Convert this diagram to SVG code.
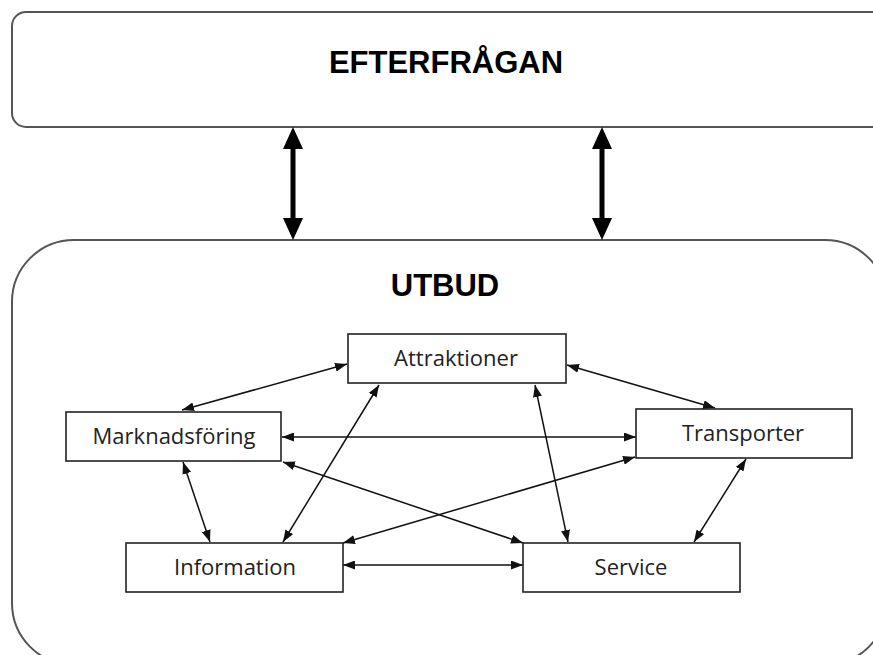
<svg xmlns="http://www.w3.org/2000/svg" width="873" height="655" viewBox="0 0 873 655">
<style>
.big{fill:#fff;stroke:#555;stroke-width:2}
.node rect{fill:#fff;stroke:#222;stroke-width:1.6}
.node text{font-family:"Open Sans","Liberation Sans",sans-serif;font-size:22px;fill:#222;text-anchor:middle}
.title{font-family:"Liberation Sans",Arial,sans-serif;font-weight:bold;fill:#000;text-anchor:middle}
.c{stroke:#111;stroke-width:1.5;fill:none;marker-start:url(#ah);marker-end:url(#ah)}
.thick{fill:#000}
</style>
<defs>
<marker id="ah" viewBox="0 0 12 9" refX="12" refY="4.5" markerWidth="12" markerHeight="9" markerUnits="userSpaceOnUse" orient="auto-start-reverse">
<path d="M0,0 L12,4.5 L0,9 z" fill="#111"/>
</marker>
</defs>
<g id="efterfragan">
<rect class="big" x="12" y="12" width="875" height="115" rx="14"/>
<text class="title" x="446" y="73" font-size="31">EFTERFRÅGAN</text>
</g>
<g id="utbud">
<rect class="big" x="12" y="240" width="875" height="425" rx="62"/>
<text class="title" x="445" y="296" font-size="31">UTBUD</text>
</g>
<g id="big-arrows">
<path class="thick" d="M293,127 L303,149 L295.5,149 L295.5,218 L303,218 L293,240 L283,218 L290.5,218 L290.5,149 L283,149 z"/>
<path class="thick" d="M602,127 L612,149 L604.5,149 L604.5,218 L612,218 L602,240 L592,218 L599.5,218 L599.5,149 L592,149 z"/>
</g>
<g id="connectors">
<line class="c" x1="347" y1="364" x2="182" y2="410"/>
<line class="c" x1="567" y1="365" x2="715" y2="408"/>
<line class="c" x1="282" y1="437" x2="636" y2="437"/>
<line class="c" x1="283" y1="462" x2="523" y2="543"/>
<line class="c" x1="183" y1="462" x2="210" y2="542"/>
<line class="c" x1="283" y1="542" x2="379" y2="385"/>
<line class="c" x1="343" y1="543" x2="635" y2="457"/>
<line class="c" x1="343" y1="565" x2="523" y2="565"/>
<line class="c" x1="535" y1="385" x2="568" y2="542"/>
<line class="c" x1="746" y1="459" x2="694" y2="542"/>
</g>
<g id="attraktioner" class="node">
<rect x="348" y="334" width="218" height="49"/>
<text x="456" y="366">Attraktioner</text>
</g>
<g id="marknadsforing" class="node">
<rect x="66" y="412" width="215" height="49"/>
<text x="174" y="444">Marknadsföring</text>
</g>
<g id="transporter" class="node">
<rect x="636" y="409" width="216" height="49"/>
<text x="743" y="441">Transporter</text>
</g>
<g id="information" class="node">
<rect x="126" y="543" width="217" height="49"/>
<text x="235" y="575">Information</text>
</g>
<g id="service" class="node">
<rect x="523" y="543" width="217" height="49"/>
<text x="631" y="575">Service</text>
</g>
</svg>
